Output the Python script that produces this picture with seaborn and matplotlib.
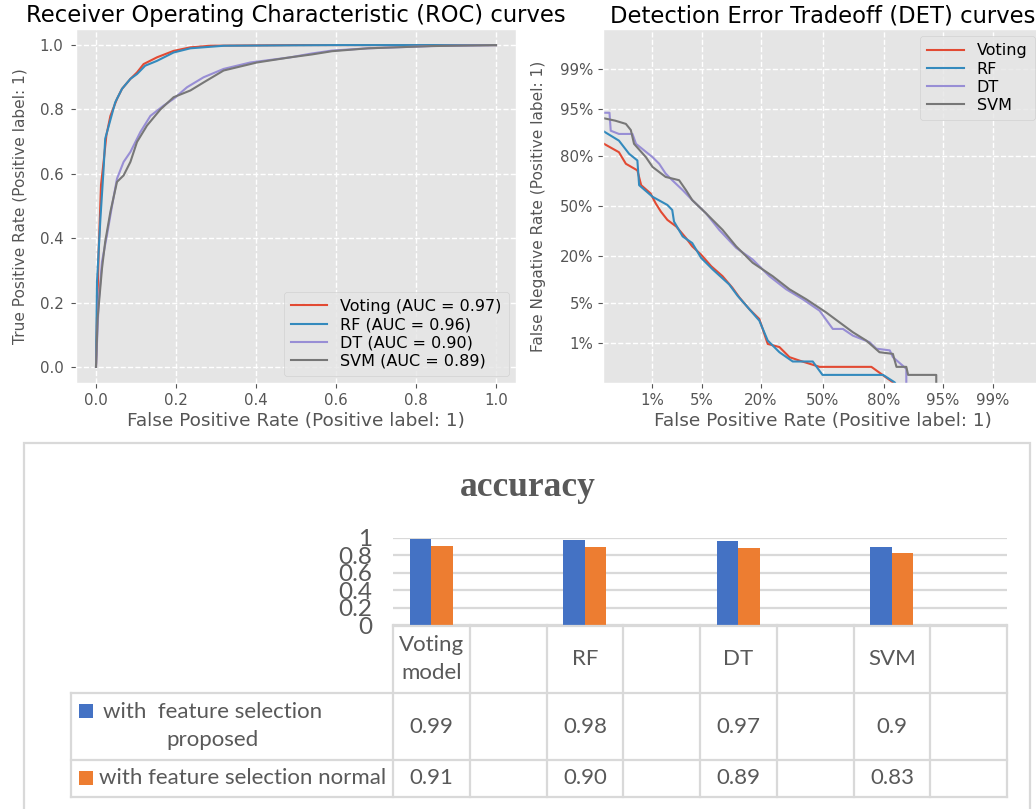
import numpy as np
import pandas as pd
import matplotlib
matplotlib.use("Agg")
import matplotlib.pyplot as plt
import matplotlib.ticker as mticker
import matplotlib.transforms as mtrans
from matplotlib.lines import Line2D
from matplotlib.patches import Rectangle
from statistics import NormalDist
import seaborn as sns

# ---------------- data ----------------
model_names = ["Voting", "RF", "DT", "SVM"]
auc_values = [0.97, 0.96, 0.90, 0.89]
curve_colors = ["#E24A33", "#348ABD", "#988ED5", "#777777"]

# ROC curves (FPR, TPR)
roc_voting_fpr = [0, 0.0025, 0.0067, 0.0125, 0.019, 0.026, 0.036, 0.0525, 0.065, 0.086, 0.1025, 0.119, 0.1525, 0.194, 0.236, 0.286, 0.5, 1.0]
roc_voting_tpr = [0, 0.15, 0.36, 0.565, 0.637, 0.72, 0.78, 0.833, 0.864, 0.895, 0.915, 0.941, 0.962, 0.982, 0.993, 0.998, 1.0, 1.0]
roc_rf_fpr = [0, 0.0025, 0.011, 0.019, 0.023, 0.048, 0.065, 0.086, 0.1025, 0.123, 0.1525, 0.194, 0.236, 0.32, 0.6, 1.0]
roc_rf_tpr = [0, 0.265, 0.46, 0.616, 0.709, 0.822, 0.864, 0.895, 0.91, 0.936, 0.951, 0.977, 0.99, 0.998, 1.0, 1.0]
roc_dt_fpr = [0, 0.0067, 0.015, 0.0275, 0.04, 0.0525, 0.069, 0.086, 0.111, 0.136, 0.169, 0.194, 0.2275, 0.269, 0.319, 0.386, 0.486, 0.54, 0.59, 0.68, 0.84, 1.0]
roc_dt_tpr = [0, 0.203, 0.327, 0.41, 0.50, 0.585, 0.637, 0.668, 0.73, 0.78, 0.812, 0.833, 0.869, 0.90, 0.926, 0.946, 0.962, 0.974, 0.983, 0.99, 0.997, 1.0]
roc_svm_fpr = [0, 0.004, 0.015, 0.023, 0.036, 0.0525, 0.069, 0.086, 0.1025, 0.1275, 0.161, 0.194, 0.236, 0.269, 0.319, 0.4025, 0.486, 0.54, 0.59, 0.68, 0.84, 1.0]
roc_svm_tpr = [0, 0.15, 0.306, 0.389, 0.482, 0.575, 0.595, 0.637, 0.699, 0.75, 0.80, 0.838, 0.859, 0.884, 0.921, 0.946, 0.962, 0.971, 0.981, 0.99, 0.997, 1.0]

# DET curves (FPR, FNR)
det_voting_fpr = [0.0010, 0.0027, 0.0036, 0.0057, 0.0066, 0.0094, 0.0113, 0.0136, 0.0170, 0.0228, 0.031, 0.0375, 0.0485, 0.064, 0.086, 0.109, 0.128, 0.159, 0.194, 0.227, 0.278, 0.326, 0.376, 0.484, 0.748, 0.832, 0.85]
det_voting_fnr = [0.870, 0.819, 0.763, 0.727, 0.638, 0.584, 0.518, 0.462, 0.407, 0.364, 0.294, 0.247, 0.205, 0.154, 0.117, 0.083, 0.0605, 0.040, 0.0277, 0.0097, 0.0084, 0.0052, 0.0044, 0.0032, 0.0032, 0.0014, 0.0010]
det_rf_fpr = [0.0010, 0.0027, 0.0041, 0.0057, 0.0061, 0.0101, 0.0170, 0.020, 0.0212, 0.028, 0.0375, 0.0485, 0.0668, 0.101, 0.123, 0.159, 0.194, 0.227, 0.278, 0.342, 0.447, 0.50, 0.796, 0.838, 0.85]
det_rf_fnr = [0.910, 0.866, 0.812, 0.780, 0.638, 0.562, 0.507, 0.473, 0.396, 0.303, 0.265, 0.190, 0.141, 0.092, 0.064, 0.040, 0.026, 0.0113, 0.0066, 0.0042, 0.0042, 0.0021, 0.0021, 0.0014, 0.0010]
det_dt_fpr = [0.0010, 0.0018, 0.0019, 0.0027, 0.0047, 0.0054, 0.0101, 0.0128, 0.016, 0.020, 0.028, 0.0375, 0.0556, 0.079, 0.119, 0.170, 0.234, 0.310, 0.394, 0.484, 0.556, 0.610, 0.661, 0.740, 0.769, 0.821, 0.832, 0.874, 0.874]
det_dt_fnr = [0.943, 0.943, 0.899, 0.889, 0.889, 0.854, 0.796, 0.763, 0.709, 0.669, 0.606, 0.540, 0.451, 0.343, 0.239, 0.182, 0.117, 0.079, 0.057, 0.038, 0.0186, 0.0186, 0.014, 0.0105, 0.0078, 0.0072, 0.0052, 0.0029, 0.0010]
det_svm_fpr = [0.0010, 0.0023, 0.0036, 0.0044, 0.0050, 0.0079, 0.0101, 0.016, 0.025, 0.031, 0.0375, 0.0556, 0.086, 0.119, 0.170, 0.248, 0.326, 0.412, 0.52, 0.592, 0.661, 0.725, 0.782, 0.832, 0.844, 0.874, 0.879, 0.940, 0.940]
det_svm_fnr = [0.935, 0.926, 0.918, 0.901, 0.854, 0.796, 0.746, 0.689, 0.669, 0.606, 0.540, 0.451, 0.343, 0.247, 0.168, 0.117, 0.079, 0.057, 0.0356, 0.0243, 0.0162, 0.0113, 0.0066, 0.0061, 0.0032, 0.0032, 0.0021, 0.0021, 0.0010]

det_ticks = [0.01, 0.05, 0.20, 0.50, 0.80, 0.95, 0.99]
det_tick_labels = ["1%", "5%", "20%", "50%", "80%", "95%", "99%"]

# Accuracy bar chart + data table
bar_models = ["Voting model", "RF", "DT", "SVM"]
bar_model_labels = ["Voting\nmodel", "RF", "DT", "SVM"]
acc_proposed = [0.99, 0.98, 0.97, 0.90]
acc_normal = [0.91, 0.90, 0.89, 0.83]
acc_proposed_text = ["0.99", "0.98", "0.97", "0.9"]
acc_normal_text = ["0.91", "0.90", "0.89", "0.83"]
series_names = ["with  feature selection proposed", "with feature selection normal"]
series_colors = ["#4472C4", "#ED7D31"]
bar_order = ["Voting model", "_gap1", "RF", "_gap2", "DT", "_gap3", "SVM", "_gap4"]

# ---------------- layout helpers ----------------
W, H = 1036, 809
def rect(l, t, r, b):
    return [l / W, 1 - b / H, (r - l) / W, (b - t) / H]
def fy(py):
    return 1 - py / H
def fx(px):
    return px / W

plt.style.use("ggplot")
plt.rcParams["font.family"] = ["DejaVu Sans"]
fig = plt.figure(figsize=(W / 100, H / 100), dpi=100)
fig.patch.set_facecolor("white")

TICK_FS = 10.8
XLABEL_FS = 13.3
YLABEL_FS = 11.1
TITLE_FS = 16.3
LEG_FS = 11.5

def style_legend(ax, loc):
    return ax.legend(loc=loc, fontsize=LEG_FS, labelspacing=0.2, handlelength=2.3,
                     borderpad=0.45, borderaxespad=0.45)

# ---------------- ROC ----------------
ax1 = fig.add_axes(rect(76, 29, 516, 383))
roc_sets = [(roc_voting_fpr, roc_voting_tpr), (roc_rf_fpr, roc_rf_tpr),
            (roc_dt_fpr, roc_dt_tpr), (roc_svm_fpr, roc_svm_tpr)]
for name, auc, col, (fx_, ty_) in zip(model_names, auc_values, curve_colors, roc_sets):
    d = pd.DataFrame({"fpr": fx_, "tpr": ty_})
    sns.lineplot(data=d, x="fpr", y="tpr", ax=ax1, color=col, sort=False,
                 estimator=None, lw=1.5, label=f"{name} (AUC = {auc:.2f})")
ax1.set_xlim(-0.05, 1.05)
ax1.set_ylim(-0.05, 1.05)
ax1.set_xticks(np.linspace(0, 1, 6))
ax1.set_yticks(np.linspace(0, 1, 6))
ax1.xaxis.set_major_formatter(mticker.FormatStrFormatter("%.1f"))
ax1.yaxis.set_major_formatter(mticker.FormatStrFormatter("%.1f"))
ax1.grid(True, color="white", linestyle="--", lw=1)
ax1.tick_params(labelsize=TICK_FS)
ax1.tick_params(axis="y", pad=5.5)
ax1.set_xlabel("False Positive Rate (Positive label: 1)", fontsize=XLABEL_FS, labelpad=3)
ax1.set_ylabel("True Positive Rate (Positive label: 1)", fontsize=YLABEL_FS, labelpad=9)
ax1.set_title("Receiver Operating Characteristic (ROC) curves", fontsize=TITLE_FS, pad=5)
style_legend(ax1, "lower right")

# ---------------- DET ----------------
nd = NormalDist()
def _fwd(p):
    p = np.clip(np.asarray(p, dtype=float), 1e-9, 1 - 1e-9)
    return np.vectorize(nd.inv_cdf)(p) if p.size else p
def _inv(z):
    z = np.asarray(z, dtype=float)
    return np.vectorize(nd.cdf)(z) if z.size else z

ax2 = fig.add_axes(rect(603, 29, 1042, 383))
ax2.set_xscale("function", functions=(_fwd, _inv))
ax2.set_yscale("function", functions=(_fwd, _inv))
det_sets = [(det_voting_fpr, det_voting_fnr), (det_rf_fpr, det_rf_fnr),
            (det_dt_fpr, det_dt_fnr), (det_svm_fpr, det_svm_fnr)]
for name, col, (a, b) in zip(model_names, curve_colors, det_sets):
    d = pd.DataFrame({"fpr": a, "fnr": b})
    sns.lineplot(data=d, x="fpr", y="fnr", ax=ax2, color=col, sort=False,
                 estimator=None, lw=1.5, label=name)
lo, hi = nd.cdf(-3), nd.cdf(3)
ax2.set_xlim(lo, hi)
ax2.set_ylim(lo, hi)
for axis in (ax2.xaxis, ax2.yaxis):
    axis.set_major_locator(mticker.FixedLocator(det_ticks))
    axis.set_major_formatter(mticker.FixedFormatter(det_tick_labels))
    axis.set_minor_locator(mticker.NullLocator())
ax2.grid(True, color="white", linestyle="--", lw=1)
ax2.tick_params(labelsize=TICK_FS)
ax2.set_xlabel("False Positive Rate (Positive label: 1)", fontsize=XLABEL_FS, labelpad=3)
ax2.set_ylabel("False Negative Rate (Positive label: 1)", fontsize=YLABEL_FS, labelpad=10)
ax2.set_title("Detection Error Tradeoff (DET) curves", fontsize=TITLE_FS, pad=5)
style_legend(ax2, "upper right")

# ---------------- bottom Excel-like chart ----------------
EXCEL_FONT = ["Lato", "DejaVu Sans"]
TXT = "#595959"
GRID = "#D9D9D9"
fig.add_artist(Rectangle((fx(24), fy(830)), fx(1030) - fx(24), fy(443) - fy(830),
                         transform=fig.transFigure, facecolor="white",
                         edgecolor=GRID, lw=1.6, zorder=0))
fig.text(fx(528), fy(488), "accuracy", ha="center", va="center",
         family=["Liberation Serif"], fontweight="bold", fontsize=25.5, color=TXT)

axb = fig.add_axes(rect(393, 538, 1007, 625))
axb.set_facecolor("white")
bar_df = pd.DataFrame({
    "model": bar_models * 2,
    "series": [series_names[0]] * 4 + [series_names[1]] * 4,
    "accuracy": acc_proposed + acc_normal,
})
sns.barplot(data=bar_df, x="model", y="accuracy", hue="series", order=bar_order,
            hue_order=series_names, palette=dict(zip(series_names, series_colors)),
            width=0.56, saturation=1, linewidth=0, legend=False, ax=axb, zorder=3)
axb.set_xlim(-0.5, 7.5)
axb.set_ylim(0, 1)
axb.set_yticks([0, 0.2, 0.4, 0.6, 0.8, 1.0])
axb.yaxis.set_major_formatter(mticker.FuncFormatter(lambda v, p: f"{v:g}"))
axb.grid(False)
axb.yaxis.grid(True, color=GRID, lw=1.6, linestyle="-")
axb.set_axisbelow(True)
for s in axb.spines.values():
    s.set_visible(False)
axb.tick_params(axis="x", bottom=False, labelbottom=False)
axb.tick_params(axis="y", left=False, pad=11.5, labelsize=17.5, labelcolor=TXT)
for lab in axb.get_yticklabels():
    lab.set_family(EXCEL_FONT)
axb.set_xlabel("")
axb.set_ylabel("")

# table lines
bt = mtrans.blended_transform_factory(axb.transData, fig.transFigure)
def hline(x0, x1, y):
    fig.add_artist(Line2D([fx(x0), fx(x1)], [fy(y), fy(y)], transform=fig.transFigure,
                          color=GRID, lw=1.6, zorder=5))
hline(393, 1007, 625.5)
hline(71, 1007, 693)
hline(71, 1007, 760)
hline(71, 1007, 797)
fig.add_artist(Line2D([fx(71), fx(71)], [fy(693), fy(797)], transform=fig.transFigure,
                      color=GRID, lw=1.6, zorder=5))
for k in range(len(bar_order) + 1):
    fig.add_artist(Line2D([k - 0.5, k - 0.5], [fy(625), fy(797)], transform=bt,
                          color=GRID, lw=1.6, zorder=5))

# table texts
for m, lab, tp, tn in zip(bar_models, bar_model_labels, acc_proposed_text, acc_normal_text):
    xi = bar_order.index(m)
    fig.text(xi, fy(659), lab, transform=bt, ha="center", va="center", fontsize=16,
             family=EXCEL_FONT, color=TXT, linespacing=1.55)
    fig.text(xi, fy(727), tp, transform=bt, ha="center", va="center", fontsize=16,
             family=EXCEL_FONT, color=TXT)
    fig.text(xi, fy(778), tn, transform=bt, ha="center", va="center", fontsize=16,
             family=EXCEL_FONT, color=TXT)

fig.add_artist(Rectangle((fx(79), fy(718)), fx(14), 14 / H, transform=fig.transFigure,
                         facecolor=series_colors[0], edgecolor="none", zorder=5))
fig.add_artist(Rectangle((fx(79), fy(785)), fx(14), 14 / H, transform=fig.transFigure,
                         facecolor=series_colors[1], edgecolor="none", zorder=5))
fig.text(fx(213), fy(726), "with  feature selection\nproposed", ha="center", va="center",
         fontsize=16, family=EXCEL_FONT, color=TXT, linespacing=1.5, multialignment="center")
fig.text(fx(99), fy(778), "with feature selection normal", ha="left", va="center",
         fontsize=16, family=EXCEL_FONT, color=TXT)

fig.savefig("out.png", dpi=100, facecolor="white")
